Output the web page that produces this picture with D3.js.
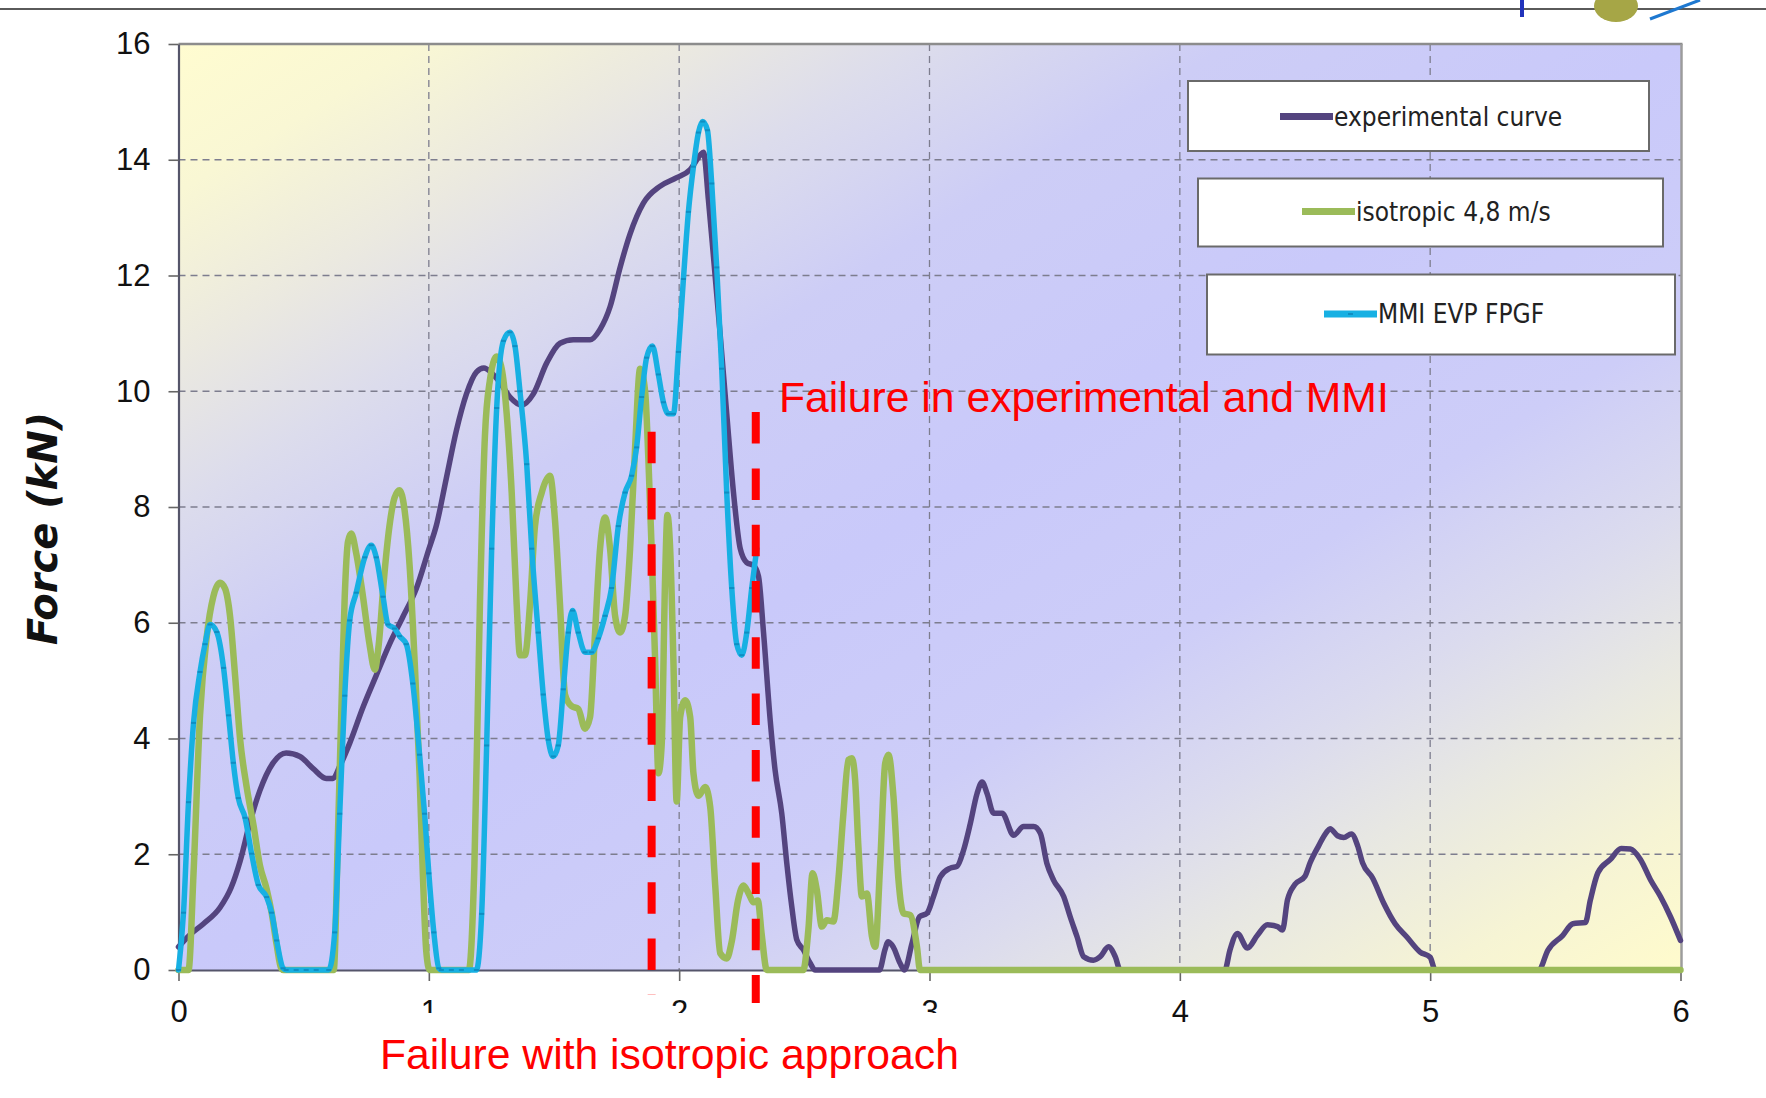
<!DOCTYPE html>
<html>
<head>
<meta charset="utf-8">
<script src="https://cdn.jsdelivr.net/npm/d3@7"></script>
<style>
  html, body { margin: 0; padding: 0; background: #ffffff; }
  svg { display: block; }
</style>
</head>
<body>
<svg id="chart" width="1766" height="1098"></svg>
<script>
// ---- data -------------------------------------------------------------
const xTicks = [0, 1, 2, 3, 4, 5, 6];
const yTicks = [0, 2, 4, 6, 8, 10, 12, 14, 16];
const seriesNames = ["experimental curve", "isotropic 4,8 m/s", "MMI EVP FPGF"];

// measured force vs displacement, [x, kN]
const experimental = [
  [0, 0.4], [0.046, 0.61], [0.1, 0.8], [0.166, 1.08], [0.21, 1.42], [0.246, 1.88], [0.286, 2.56],
  [0.325, 3.1], [0.378, 3.58], [0.43, 3.75], [0.485, 3.69], [0.538, 3.48], [0.59, 3.31], [0.617, 3.31],
  [0.644, 3.52], [0.684, 3.92], [0.737, 4.54], [0.79, 5.09], [0.843, 5.63], [0.896, 6.1], [0.95, 6.59],
  [1.0, 7.27], [1.03, 7.68], [1.07, 8.5], [1.11, 9.32], [1.15, 9.95], [1.19, 10.33], [1.22, 10.4],
  [1.25, 10.32], [1.284, 10.15], [1.324, 9.9], [1.371, 9.76], [1.417, 9.95], [1.471, 10.49],
  [1.524, 10.83], [1.577, 10.89], [1.644, 10.89], [1.684, 11.07], [1.724, 11.46], [1.764, 12.14],
  [1.804, 12.72], [1.857, 13.25], [1.923, 13.54], [1.99, 13.69], [2.044, 13.83], [2.084, 14.08],
  [2.097, 14.13], [2.117, 13.3], [2.137, 12.33], [2.164, 10.97], [2.19, 9.61], [2.217, 8.25],
  [2.244, 7.28], [2.27, 7.04], [2.297, 6.99], [2.317, 6.8], [2.337, 5.83], [2.364, 4.3], [2.383, 3.46],
  [2.41, 2.7], [2.43, 1.84], [2.45, 1.09], [2.47, 0.52], [2.496, 0.35], [2.523, 0.12], [2.543, 0],
  [2.8, 0], [2.822, 0.35], [2.835, 0.49], [2.855, 0.4], [2.882, 0.12], [2.9, 0], [2.93, 0.46],
  [2.96, 0.92], [2.99, 0.98], [3.016, 1.27], [3.043, 1.61], [3.083, 1.76], [3.11, 1.79], [3.136, 2.07],
  [3.163, 2.53], [3.19, 3.05], [3.21, 3.25], [3.23, 3.05], [3.256, 2.71], [3.29, 2.71], [3.336, 2.33],
  [3.376, 2.48], [3.416, 2.48], [3.443, 2.36], [3.469, 1.84], [3.496, 1.55], [3.536, 1.27],
  [3.562, 0.92], [3.589, 0.58], [3.616, 0.23], [3.655, 0.17], [3.682, 0.23], [3.715, 0.4],
  [3.742, 0.23], [3.762, 0], [4.18, 0], [4.2, 0.34], [4.23, 0.63], [4.27, 0.38], [4.31, 0.6],
  [4.35, 0.78], [4.39, 0.75], [4.41, 0.69], [4.43, 1.21], [4.46, 1.48], [4.5, 1.62], [4.52, 1.85],
  [4.555, 2.15], [4.586, 2.38], [4.6, 2.44], [4.63, 2.32], [4.655, 2.29], [4.685, 2.35], [4.71, 2.15],
  [4.73, 1.85], [4.77, 1.59], [4.815, 1.15], [4.86, 0.8], [4.907, 0.57], [4.96, 0.31], [5.0, 0.22],
  [5.02, 0], [5.434, 0], [5.47, 0.34], [5.53, 0.6], [5.57, 0.8], [5.62, 0.82], [5.64, 1.21],
  [5.67, 1.68], [5.72, 1.91], [5.763, 2.1], [5.8, 2.09], [5.84, 1.91], [5.88, 1.56], [5.92, 1.27],
  [5.96, 0.92], [6.0, 0.51]
];

// isotropic model, impact speed 4.8 m/s
const isotropic = [
  [0, 0], [0.04, 0], [0.06, 1.67], [0.086, 4.4], [0.113, 5.77], [0.139, 6.45], [0.166, 6.69],
  [0.186, 6.59], [0.206, 6.11], [0.226, 5.09], [0.246, 3.99], [0.272, 3.17], [0.3, 2.49], [0.325, 1.81],
  [0.352, 1.4], [0.372, 0.99], [0.392, 0.44], [0.41, 0.03], [0.42, 0], [0.62, 0], [0.637, 2.35],
  [0.65, 4.4], [0.664, 6.45], [0.677, 7.4], [0.69, 7.54], [0.71, 7.2], [0.737, 6.45], [0.763, 5.63],
  [0.784, 5.19], [0.8, 5.63], [0.82, 6.72], [0.843, 7.68], [0.863, 8.16], [0.883, 8.29], [0.903, 7.95],
  [0.923, 7.0], [0.943, 5.36], [0.963, 3.38], [0.976, 1.67], [0.99, 0.31], [1.003, 0], [1.16, 0],
  [1.182, 1.8], [1.204, 6.31], [1.224, 9.22], [1.244, 10.19], [1.271, 10.6], [1.291, 10.39],
  [1.311, 9.61], [1.331, 8.25], [1.351, 6.31], [1.364, 5.44], [1.384, 5.44], [1.404, 6.31],
  [1.424, 7.67], [1.451, 8.25], [1.484, 8.54], [1.504, 7.77], [1.524, 6.31], [1.544, 4.76],
  [1.57, 4.56], [1.597, 4.51], [1.624, 4.17], [1.644, 4.37], [1.664, 5.83], [1.684, 7.28],
  [1.704, 7.82], [1.724, 7.28], [1.744, 6.12], [1.764, 5.83], [1.784, 6.12], [1.804, 7.28],
  [1.824, 9.03], [1.844, 10.39], [1.864, 10.0], [1.877, 8.83], [1.89, 7.28], [1.904, 5.34],
  [1.917, 3.4], [1.93, 3.88], [1.944, 6.8], [1.953, 7.86], [1.964, 7.28], [1.977, 5.34], [1.99, 2.91],
  [2.004, 4.37], [2.024, 4.66], [2.044, 4.37], [2.057, 3.4], [2.077, 3.01], [2.104, 3.16],
  [2.124, 2.82], [2.144, 1.46], [2.164, 0.29], [2.19, 0.2], [2.21, 0.49], [2.235, 1.2], [2.257, 1.46],
  [2.28, 1.3], [2.297, 1.17], [2.314, 1.2], [2.33, 0.6], [2.35, 0], [2.496, 0], [2.516, 0.69],
  [2.533, 1.67], [2.55, 1.38], [2.57, 0.75], [2.59, 0.86], [2.616, 0.84], [2.636, 1.56], [2.656, 2.7],
  [2.676, 3.63], [2.69, 3.66], [2.703, 3.28], [2.716, 2.13], [2.73, 1.27], [2.75, 1.32], [2.77, 0.58],
  [2.783, 0.4], [2.803, 1.84], [2.823, 3.57], [2.836, 3.72], [2.856, 3.0], [2.876, 1.56],
  [2.896, 0.98], [2.923, 0.95], [2.95, 0.4], [2.962, 0], [6, 0]
];

// MMI EVP FPGF model
const mmi = [
  [0, 0], [0.02, 0.99], [0.04, 2.9], [0.06, 4.27], [0.086, 5.15], [0.106, 5.63], [0.126, 5.97],
  [0.153, 5.84], [0.18, 5.22], [0.2, 4.4], [0.219, 3.58], [0.239, 2.97], [0.266, 2.63], [0.292, 2.01],
  [0.319, 1.47], [0.352, 1.26], [0.372, 0.99], [0.392, 0.51], [0.418, 0.03], [0.43, 0], [0.47, 0],
  [0.51, 0], [0.55, 0], [0.6, 0], [0.624, 0.65], [0.644, 2.7], [0.664, 4.74], [0.684, 6.04],
  [0.71, 6.52], [0.744, 7.13], [0.77, 7.34], [0.79, 7.13], [0.817, 6.45], [0.837, 5.97], [0.863, 5.9],
  [0.883, 5.77], [0.91, 5.63], [0.936, 4.95], [0.963, 3.72], [0.983, 2.7], [1.0, 1.67], [1.02, 0.65],
  [1.04, 0.03], [1.05, 0], [1.09, 0], [1.13, 0], [1.19, 0], [1.211, 0.97], [1.231, 3.88], [1.251, 7.28],
  [1.271, 9.71], [1.298, 10.87], [1.324, 11.02], [1.344, 10.78], [1.364, 10.0], [1.391, 8.74],
  [1.411, 7.28], [1.437, 5.83], [1.457, 4.76], [1.477, 3.98], [1.497, 3.69], [1.517, 3.88],
  [1.537, 4.85], [1.557, 5.83], [1.574, 6.21], [1.597, 5.83], [1.624, 5.49], [1.65, 5.49],
  [1.677, 5.73], [1.704, 6.12], [1.73, 6.6], [1.757, 7.67], [1.784, 8.25], [1.81, 8.54], [1.83, 9.03],
  [1.85, 9.9], [1.87, 10.58], [1.893, 10.78], [1.917, 10.29], [1.937, 9.81], [1.957, 9.61],
  [1.977, 9.61], [1.997, 10.68], [2.017, 11.94], [2.037, 13.1], [2.057, 13.88], [2.077, 14.47],
  [2.094, 14.66], [2.113, 14.51], [2.13, 13.59], [2.15, 12.14], [2.17, 10.39], [2.19, 8.25],
  [2.21, 6.6], [2.23, 5.63], [2.25, 5.44], [2.27, 5.83], [2.29, 6.6], [2.31, 7.28]
];

// failure markers: displacement and vertical extent (kN)
const failureIsotropic = { x: 1.89, from: -0.43, to: 9.3 };
const failureMMI = { x: 2.306, from: -0.57, to: 9.64 };

// ---- drawing ----------------------------------------------------------
const svg = d3.select("#chart");
const plotLeft = 178.5, plotRight = 1681.5, plotTop = 44, plotBottom = 970;

const x = d3.scaleLinear().domain([0, 6]).range([plotLeft, 1680.5]);
const y = d3.scaleLinear().domain([0, 16]).range([plotBottom, plotTop]);

// page rule and header ornaments
svg.append("line").attr("x1", 0).attr("x2", 1766).attr("y1", 9).attr("y2", 9)
  .attr("stroke", "#5a5a5a").attr("stroke-width", 2);
svg.append("rect").attr("x", 1520).attr("y", 0).attr("width", 4).attr("height", 17).attr("fill", "#2233bb");
svg.append("ellipse").attr("cx", 1616).attr("cy", 6).attr("rx", 22).attr("ry", 16).attr("fill", "#a6a646");
svg.append("line").attr("x1", 1650).attr("y1", 19).attr("x2", 1700).attr("y2", 0)
  .attr("stroke", "#1e78d0").attr("stroke-width", 3);

// plot-area fill: yellow corners, lavender diagonal band
const defs = svg.append("defs");
const grad = defs.append("linearGradient").attr("id", "plotFill")
  .attr("x1", 0).attr("y1", 0).attr("x2", 1).attr("y2", 1);
[[0, "#fffcd0"], [0.08, "#f9f7d4"], [0.17, "#ebe9e0"], [0.25, "#dcdcec"], [0.35, "#cdcdf6"],
 [0.5, "#c9c9fa"], [0.65, "#cdcdf8"], [0.75, "#dbdbee"], [0.83, "#e8e8e2"], [0.92, "#f6f4d4"],
 [1, "#fffbcc"]]
  .forEach(([o, c]) => grad.append("stop").attr("offset", o).attr("stop-color", c));

svg.append("rect").attr("x", plotLeft).attr("y", plotTop)
  .attr("width", plotRight - plotLeft).attr("height", plotBottom - plotTop)
  .attr("fill", "url(#plotFill)");

// gridlines
const grid = svg.append("g").attr("stroke", "#7d7d8e").attr("stroke-width", 1.3)
  .attr("stroke-dasharray", "7,5").attr("fill", "none");
grid.selectAll("line.h").data(yTicks.filter(v => v > 0 && v < 16)).join("line")
  .attr("class", "h").attr("x1", plotLeft).attr("x2", plotRight)
  .attr("y1", d => y(d)).attr("y2", d => y(d));
grid.selectAll("line.v").data(xTicks.filter(v => v > 0 && v < 6)).join("line")
  .attr("class", "v").attr("y1", plotTop).attr("y2", plotBottom)
  .attr("x1", d => x(d)).attr("x2", d => x(d));

// plot border (top and right)
svg.append("line").attr("x1", plotLeft).attr("x2", plotRight + 1).attr("y1", plotTop).attr("y2", plotTop)
  .attr("stroke", "#8c8c8c").attr("stroke-width", 2.5);
svg.append("line").attr("x1", plotRight).attr("x2", plotRight).attr("y1", plotTop).attr("y2", plotBottom)
  .attr("stroke", "#9c9c9c").attr("stroke-width", 2.5);

// axes
const tickFont = "'Liberation Sans', Arial, sans-serif";
const yAxis = svg.append("g").attr("transform", `translate(${plotLeft},0)`)
  .call(d3.axisLeft(y).tickValues(yTicks).tickSize(10).tickSizeOuter(0).tickPadding(18).tickFormat(d3.format("d")));
const xAxis = svg.append("g").attr("transform", `translate(0,${plotBottom})`)
  .call(d3.axisBottom(x).tickValues(xTicks).tickSize(11).tickSizeOuter(0).tickPadding(19).tickFormat(d3.format("d")));
[yAxis, xAxis].forEach(g => {
  g.select(".domain").attr("stroke", "#55556a").attr("stroke-width", 2.2);
  g.selectAll(".tick line").attr("stroke", "#666").attr("stroke-width", 1.6);
  g.selectAll(".tick text").attr("fill", "#111").style("font-family", tickFont).style("font-size", "31px");
});

// series
const line = d3.line().x(d => x(d[0])).y(d => y(d[1])).curve(d3.curveMonotoneX);
const colors = ["#54447f", "#9bbb59", "#17b0e3"];
const widths = [5.5, 6.5, 5.5];
[experimental, isotropic, mmi].forEach((data, i) => {
  svg.append("path").datum(data).attr("d", line)
    .attr("fill", "none").attr("stroke", colors[i]).attr("stroke-width", widths[i])
    .attr("stroke-linejoin", "round").attr("stroke-linecap", "round");
});
svg.append("g").selectAll("rect").data(mmi).join("rect")
  .attr("x", d => x(d[0]) - 2.5).attr("y", d => y(d[1]) - 1)
  .attr("width", 5).attr("height", 2).attr("fill", "#0f8ec2");

// legend
const legendBoxes = [
  { x: 1188, y: 81, w: 461, h: 70, lx: 1280, ly: 116.5 },
  { x: 1198, y: 178.5, w: 465, h: 68, lx: 1302, ly: 211.5 },
  { x: 1207, y: 274.5, w: 468, h: 80, lx: 1324, ly: 314 }
];
seriesNames.forEach((name, i) => {
  const b = legendBoxes[i];
  const g = svg.append("g");
  g.append("rect").attr("x", b.x).attr("y", b.y).attr("width", b.w).attr("height", b.h)
    .attr("fill", "#ffffff").attr("stroke", "#6a6a6a").attr("stroke-width", 2);
  g.append("line").attr("x1", b.lx).attr("x2", b.lx + 53).attr("y1", b.ly).attr("y2", b.ly)
    .attr("stroke", colors[i]).attr("stroke-width", 7);
  if (i === 2) {
    g.append("rect").attr("x", b.lx + 24).attr("y", b.ly - 1).attr("width", 5).attr("height", 2).attr("fill", "#0f8ec2");
  }
  g.append("text").attr("x", b.lx + 54).attr("y", b.ly + 9)
    .style("font-family", "'DejaVu Sans Condensed', 'DejaVu Sans', sans-serif")
    .style("font-stretch", "condensed")
    .style("font-size", "26px").attr("fill", "#222").text(name);
});

// axis title
svg.append("text").attr("transform", "translate(57,528.5) rotate(-90)")
  .attr("text-anchor", "middle")
  .style("font-family", "'DejaVu Sans', sans-serif").style("font-weight", "bold").style("font-style", "italic")
  .style("font-size", "40px").attr("fill", "#111").text("Force (kN)");

// failure annotations
[failureIsotropic, failureMMI].forEach(f => {
  svg.append("line").attr("x1", x(f.x)).attr("x2", x(f.x))
    .attr("y1", y(f.to)).attr("y2", y(f.from))
    .attr("stroke", "#ff0000").attr("stroke-width", 8).attr("stroke-dasharray", "31.5,24.8");
});

// white label panel behind the lower note
svg.append("rect").attr("x", 365).attr("y", 1013).attr("width", 610).attr("height", 85).attr("fill", "#ffffff");

const noteFont = "'Liberation Sans', Arial, sans-serif";
svg.append("text").attr("x", 779).attr("y", 411.5)
  .style("font-family", noteFont).style("font-size", "42.7px").attr("fill", "#ff0000")
  .text("Failure in experimental and MMI");
svg.append("text").attr("x", 380).attr("y", 1069)
  .style("font-family", noteFont).style("font-size", "42.7px").attr("fill", "#ff0000")
  .text("Failure with isotropic approach");
</script>
</body>
</html>
